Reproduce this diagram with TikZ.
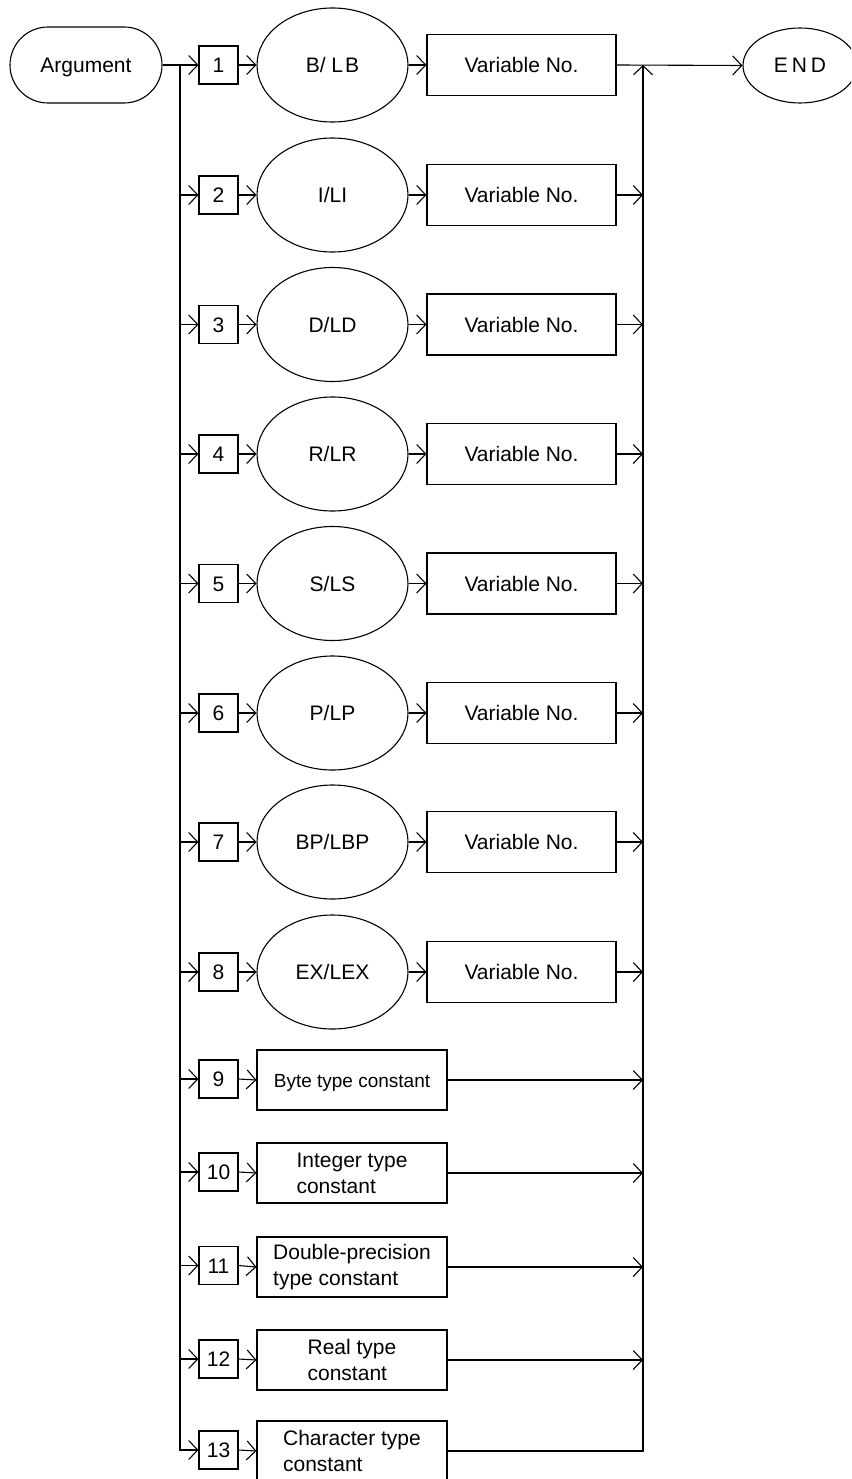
\documentclass[tikz,border=0pt]{standalone}
\usepackage{fontspec}
\setmainfont{Liberation Sans}
\usetikzlibrary{arrows.meta,shapes.geometric}
\tikzset{
  base/.style={draw, line width=1.1pt, inner sep=0pt, font=\fontsize{21pt}{26pt}\selectfont},
  oneline/.style={text height=15pt, text depth=0pt},
  argbox/.style={base, oneline, rectangle, rounded corners=38pt, minimum width=152pt, minimum height=76pt},
  numbox/.style={base, oneline, rectangle, minimum width=39pt, minimum height=38pt},
  oval/.style={base, oneline, ellipse, minimum width=151pt, minimum height=114pt},
  varbox/.style={base, oneline, rectangle, minimum width=189pt, minimum height=61pt},
  constbox/.style={base, rectangle, minimum width=190pt, minimum height=60pt, align=left},
  endoval/.style={base, oneline, ellipse, minimum width=114pt, minimum height=75pt},
  wire/.style={line width=1.1pt},
  arr/.style={wire, -{Straight Barb[length=9pt,width=19pt]}}
}
\begin{document}
\begin{tikzpicture}[x=1pt,y=-1pt]
\useasboundingbox (0,0) rectangle (851,1479);
\clip (0,0) rectangle (851,1479);

\node[argbox] (arg) at (86,65) {Argument};
\node[endoval] (endn) at (800,65.5) {E\hspace{4pt}N\hspace{4pt}D};

\foreach \i/\y/\lab in {1/65/{B/ L\hspace{2pt}B},2/195/{I/LI},3/324.5/{D/LD},4/454/{R/LR},5/583.5/{S/LS},6/713/{P/LP},7/842/{BP/LBP},8/972/{EX/LEX}}{
  \node[numbox] (n\i) at (218.5,\y) {\i};
  \node[oval] (e\i) at (332.5,\y) {\lab};
  \node[varbox] (v\i) at (521.5,\y) {Variable No.};
}

\foreach \i/\y in {9/1079,10/1172,11/1265.5,12/1359,13/1450}{
  \node[numbox] (n\i) at (218.5,\y) {\i};
}
\node[constbox, oneline, font=\fontsize{19pt}{24pt}\selectfont] (c9) at (352,1080) {Byte type constant};
\node[constbox] (c10) at (352,1173) {Integer type\\constant};
\node[constbox] (c11) at (352,1267) {Double-precision\\type constant};
\node[constbox] (c12) at (352,1360) {Real type\\constant};
\node[constbox] (c13) at (352,1451) {Character type\\constant};

\coordinate (lt) at (180,65);
\coordinate (rt) at (643,65);

% left bus
\draw[arr] (arg.east) -- (n1.west);
\draw[arr] (lt) |- (n13.west);
\foreach \i in {2,...,12}{
  \draw[arr] (n\i.west -| lt) -- (n\i.west);
}

% number -> ellipse -> variable
\foreach \i in {1,...,8}{
  \draw[arr] (n\i.east) -- (e\i.west);
  \draw[arr] (e\i.east) -- (v\i.west);
}
\foreach \i in {9,...,13}{
  \draw[arr] (n\i.east) -- (c\i.west);
}

% right bus
\draw[arr] (v1.east) -- (endn.west);
\foreach \i in {2,...,8}{
  \draw[arr] (v\i.east) -- (v\i.east -| rt);
}
\foreach \i in {9,...,12}{
  \draw[arr] (c\i.east) -- (c\i.east -| rt);
}
\draw[arr] (c13.east) -| (rt);
\end{tikzpicture}
\end{document}
